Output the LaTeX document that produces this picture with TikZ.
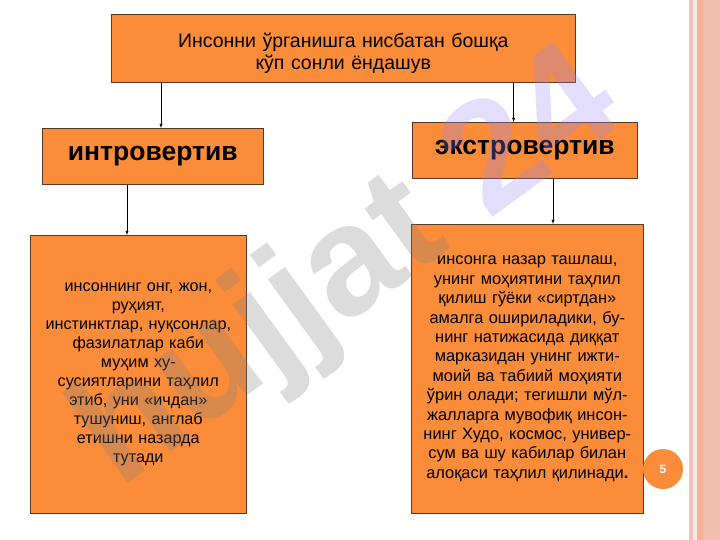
\documentclass[tikz,border=0pt]{standalone}
\usepackage{fontspec}
\setmainfont{Liberation Sans}
\usetikzlibrary{positioning}
\definecolor{boxorange}{RGB}{250,140,58}
\definecolor{boxedge}{RGB}{90,55,35}
\definecolor{wmgray}{RGB}{130,130,130}
\definecolor{wmblue}{RGB}{150,135,245}
\begin{document}
\begin{tikzpicture}[x=1pt,y=-1pt,
box/.style={rectangle,
  draw=boxedge,
  line width=0.6pt,
  fill=boxorange,
  inner sep=0pt,
  align=center,
  anchor=north west
},
headbox/.style={box,
  font=\fontsize{26.5}{30}\selectfont\bfseries
},
textbox/.style={box,
  font=\fontsize{16.2}{18.9}\selectfont
},
arr/.style={->,thin,black},
>=latex
]
\useasboundingbox (0,0) rectangle (720,540);

% side stripe of the slide
\fill[fill={rgb,255:red,245;green,192;blue,190}] (689,0) rectangle (693,540);
\fill[fill={rgb,255:red,246;green,236;blue,230}] (693,0) rectangle (697,540);
\fill[fill={rgb,255:red,246;green,180;blue,150}] (697,0) rectangle (703,540);
\fill[fill={rgb,255:red,243;green,192;blue,176}] (703,0) rectangle (720,540);

\node[box, text width=464pt, minimum height=68pt, font=\fontsize{19.5}{22}\selectfont] (approach) at (111,14)
    {\rule{0pt}{24pt}Инсонни ўрганишга нисбатан бошқа\\кўп сонли ёндашув};
\node[headbox, text width=221pt, minimum height=56pt] (intro) at (42,128)
    {интровертив};
\node[headbox, text width=225pt, minimum height=56pt] (extro) at (412,122)
    {экстровертив};
\node[textbox, text width=216pt, minimum height=278pt] (introtext) at (30,235)
    {инсоннинг онг, жон,\\руҳият,\\инстинктлар, нуқсонлар,\\фазилатлар каби\\муҳим ху-\\сусиятларини таҳлил\\этиб, уни «ичдан»\\тушуниш, англаб\\етишни назарда\\тутади};
\node[textbox, text width=232pt, minimum height=289pt, font=\fontsize{16.4}{19.4}\selectfont] (extrotext) at (411,224)
    {инсонга назар ташлаш,\\унинг моҳиятини таҳлил\\қилиш гўёки «сиртдан»\\амалга ошириладики, бу-\\нинг натижасида диққат\\марказидан унинг ижти-\\моий ва табиий моҳияти\\ўрин олади; тегишли мўл-\\жалларга мувофиқ инсон-\\нинг Худо, космос, универ-\\сум ва шу кабилар билан\\алоқаси таҳлил қилинади\textbf{.}};

\draw[arr] ([xshift=50pt]approach.south west) -- ([xshift=50pt]approach.south west |- intro.north);
\draw[arr] ([xshift=-62pt]approach.south east) -- ([xshift=-62pt]approach.south east |- extro.north);
\draw[arr] ([xshift=85pt]intro.south west) -- ([xshift=85pt]intro.south west |- introtext.north);
\draw[arr] ([xshift=141pt]extro.south west) -- ([xshift=141pt]extro.south west |- extrotext.north);

% watermark
\node[rotate=36, inner sep=0pt, font=\fontsize{155}{155}\selectfont\bfseries, text=wmgray, text opacity=0.28] (mark) at (350,272)
    {hujjat \textcolor{wmblue}{24}};

\node[circle, fill=boxorange, minimum size=40pt, inner sep=0pt, text=white, font=\fontsize{12}{12}\selectfont\bfseries] (pagenum) at (663,469)
    {5};
\end{tikzpicture}
\end{document}
